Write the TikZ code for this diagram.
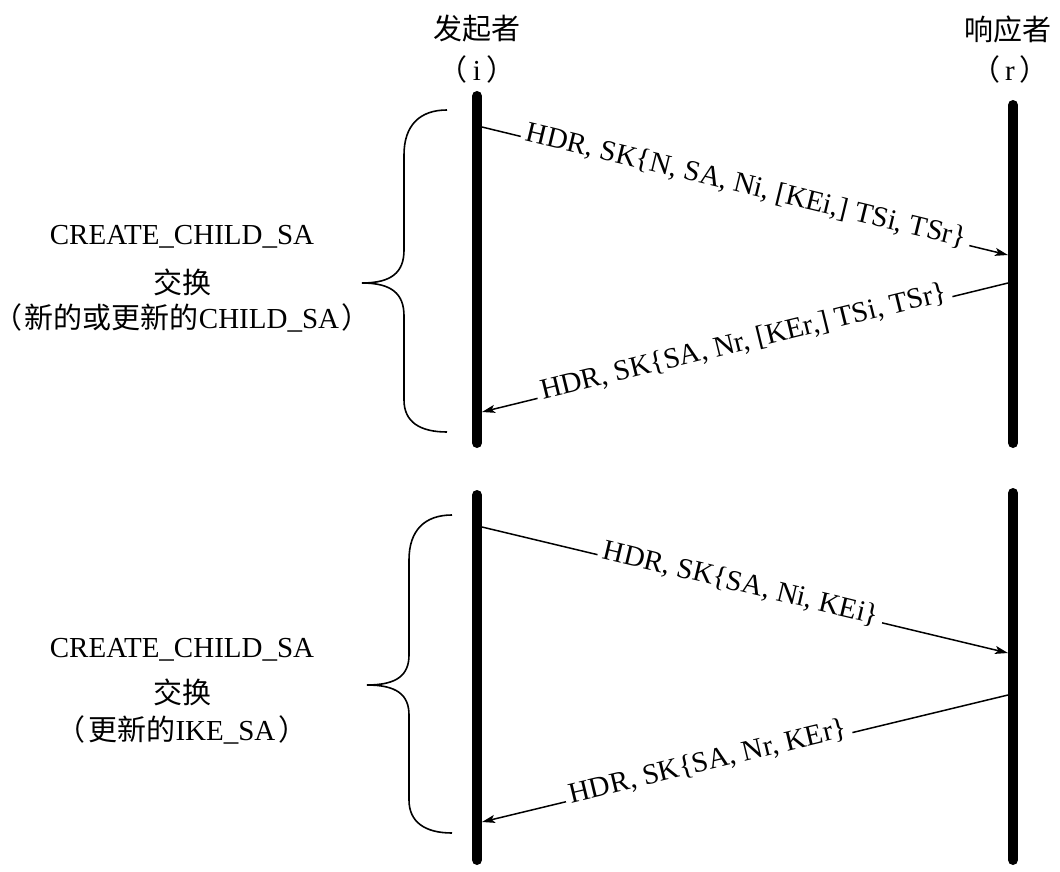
\documentclass[tikz,border=0pt]{standalone}
\usepackage{fontspec}
\setmainfont{Liberation Serif}
\newfontfamily\cjk{Noto Sans CJK SC}
\usetikzlibrary{arrows.meta}
\begin{document}
\begin{tikzpicture}[x=1pt,y=-1pt,
  lifeline/.style={line width=10pt,line cap=round},
  msg/.style={line width=1.5pt,-{Stealth[length=13pt,width=8pt,inset=3pt]}},
  lbl/.style={font=\fontsize{29}{32}\selectfont, fill=white, sloped, inner xsep=5pt, inner ysep=1pt, text height=0.8em, text depth=0.25em},
  bracepath/.style={line width=1.6pt},
  txt/.style={font=\fontsize{29}{34}\selectfont, align=center, inner sep=0pt}
]
\useasboundingbox (0,0) rectangle (1060,872);

% headers
\node[txt] (hi) at (477,29) {\cjk 发起者};
\node[txt] (hip) at (477,69) {{\cjk （}\hspace{5pt}i\hspace{5pt}{\cjk ）}};
\node[txt] (hr) at (1008,29) {\cjk 响应者};
\node[txt] (hrp) at (1010,69) {{\cjk （}\hspace{5pt}r\hspace{5pt}{\cjk ）}};

% lifelines
\coordinate (i1t) at (477,96);
\coordinate (i1b) at (477,443);
\coordinate (r1t) at (1013,105);
\coordinate (r1b) at (1013,443);
\coordinate (i2t) at (477,495);
\coordinate (i2b) at (477,860);
\coordinate (r2t) at (1013,493);
\coordinate (r2b) at (1013,860);
\draw[lifeline] (i1t) -- (i1b);
\draw[lifeline] (r1t) -- (r1b);
\draw[lifeline] (i2t) -- (i2b);
\draw[lifeline] (r2t) -- (r2b);

% messages
\coordinate (a1s) at (482,127);
\coordinate (a1e) at (1008,255);
\coordinate (a2s) at (1008,283);
\coordinate (a2e) at (482,412);
\coordinate (a3s) at (482,527);
\coordinate (a3e) at (1008,653);
\coordinate (a4s) at (1008,695);
\coordinate (a4e) at (482,822);

\draw[msg] (a1s) -- node[lbl,pos=0.5] (l1) {HDR, SK\{N, SA, Ni, [KEi,] TSi, TSr\}} (a1e);
\draw[msg] (a2s) -- node[lbl,pos=0.5] (l2) {HDR, SK\{SA, Nr, [KEr,] TSi, TSr\}} (a2e);
\draw[msg] (a3s) -- node[lbl,pos=0.49] (l3) {HDR, SK\{SA, Ni, KEi\}} (a3e);
\draw[msg] (a4s) -- node[lbl,pos=0.568] (l4) {HDR, SK\{SA, Nr, KEr\}} (a4e);

% braces
\draw[bracepath] (447,110) .. controls (420,110) and (404,125) .. (404,155) -- (404,250)
  .. controls (404,272) and (392,283) .. (362,283)
  .. controls (392,283) and (404,294) .. (404,316) -- (404,400)
  .. controls (404,422) and (420,432) .. (447,432);
\draw[bracepath] (452,515) .. controls (425,515) and (409,530) .. (409,560) -- (409,655)
  .. controls (409,675) and (397,685) .. (367,685)
  .. controls (397,685) and (409,695) .. (409,715) -- (409,800)
  .. controls (409,822) and (425,833) .. (452,833);

% group labels
\node[txt] (g1a) at (182,237) {CREATE\_CHILD\_SA};
\node[txt] (g1b) at (182,282) {\cjk 交换};
\node[txt] (g1c) at (182,318) {{\cjk （}\hspace{2pt}{\cjk 新的或更新的}CHILD\_SA\hspace{2pt}{\cjk ）}};
\node[txt] (g2a) at (182,650) {CREATE\_CHILD\_SA};
\node[txt] (g2b) at (182,692) {\cjk 交换};
\node[txt] (g2c) at (182,730) {{\cjk （}\hspace{3pt}{\cjk 更新的}IKE\_SA\hspace{3pt}{\cjk ）}};
\end{tikzpicture}
\end{document}
